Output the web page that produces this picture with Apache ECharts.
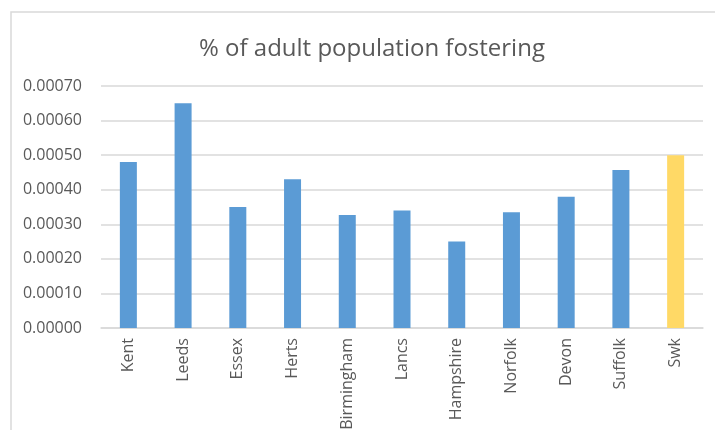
<!DOCTYPE html>
<html>
<head>
<meta charset="utf-8">
<script src="https://cdn.jsdelivr.net/npm/echarts@6/dist/echarts.min.js"></script>
<style>
  html, body { margin: 0; padding: 0; background: #fff; }
  #chart { width: 715px; height: 430px; }
</style>
</head>
<body>
<div id="chart"></div>
<script>
// areas and share of adults fostering
var categories = ['Kent', 'Leeds', 'Essex', 'Herts', 'Birmingham', 'Lancs', 'Hampshire', 'Norfolk', 'Devon', 'Suffolk', 'Swk']
var values = [0.00048, 0.00065, 0.00035, 0.00043, 0.000327, 0.00034, 0.00025, 0.000335, 0.00038, 0.000457, 0.0005]
var highlight = 'Swk'

var chart = echarts.init(document.getElementById('chart'))

chart.setOption({
  animation: false,
  textStyle: { fontFamily: 'Open Sans' },
  graphic: [
    {
      type: 'rect',
      shape: { x: 11, y: 12, width: 720, height: 430 },
      style: { fill: 'none', stroke: '#d9d9d9', lineWidth: 1.5 },
      silent: true
    }
  ],
  title: {
    text: '% of adult population fostering',
    left: 194,
    top: 32,
    textStyle: {
      fontFamily: 'Open Sans',
      fontWeight: 'normal',
      fontSize: 24,
      color: '#595959'
    }
  },
  grid: {
    left: 101,
    right: 12,
    top: 86,
    bottom: 102,
    outerBoundsMode: 'none'
  },
  xAxis: {
    type: 'category',
    data: categories,
    axisLine: { lineStyle: { color: '#d9d9d9', width: 1.5 } },
    axisTick: { show: false },
    axisLabel: {
      rotate: 90,
      interval: 0,
      color: '#595959',
      fontSize: 16,
      margin: 10
    }
  },
  yAxis: {
    type: 'value',
    min: 0,
    max: 0.0007,
    interval: 0.0001,
    axisLine: { show: false },
    axisTick: { show: false },
    splitLine: { lineStyle: { color: '#d9d9d9', width: 1.5 } },
    axisLabel: {
      color: '#595959',
      fontSize: 16,
      margin: 19,
      formatter: function(v) {
        return v.toFixed(5)
      }
    }
  },
  series: [
    {
      type: 'bar',
      data: values,
      barWidth: 17,
      itemStyle: {
        color: function(p) {
          return p.name === highlight ? '#ffd966' : '#5b9bd5'
        }
      }
    }
  ]
})
</script>
</body>
</html>
